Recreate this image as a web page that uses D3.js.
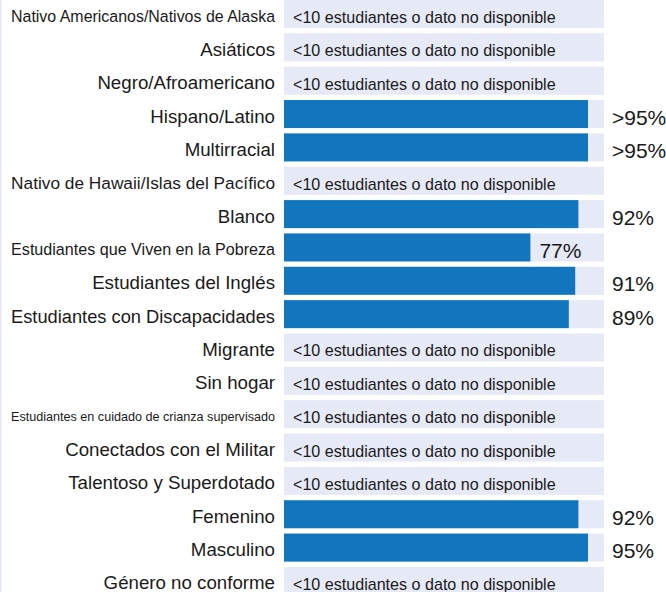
<!DOCTYPE html>
<html>
<head>
    <meta charset="utf-8">
    <style>
        body { margin: 0; padding: 0; overflow: hidden; background-color: #fff; }
        svg { display: block; }
        text { font-family: "Liberation Sans", Arial, sans-serif; fill: #1a1a1a; }
    </style>
</head>
<body>
    <div id="chart"></div>
    <script src="https://d3js.org/d3.v7.min.js"></script>
    <script>
        var groups = ["Nativo Americanos/Nativos de Alaska", "Asiáticos", "Negro/Afroamericano", "Hispano/Latino",
            "Multirracial", "Nativo de Hawaii/Islas del Pacífico", "Blanco", "Estudiantes que Viven en la Pobreza",
            "Estudiantes del Inglés", "Estudiantes con Discapacidades", "Migrante", "Sin hogar",
            "Estudiantes en cuidado de crianza supervisado", "Conectados con el Militar", "Talentoso y Superdotado",
            "Femenino", "Masculino", "Género no conforme"];
        // null = fewer than 10 students or no data
        var values = [null, null, null, 95, 95, null, 92, 77, 91, 89, null, null, null, null, null, 92, 95, null];
        var valueLabels = [null, null, null, ">95%", ">95%", null, "92%", "77%", "91%", "89%", null, null, null, null, null, "92%", "95%", null];
        var noDataText = "<10 estudiantes o dato no disponible";

        var width = 666, height = 592;
        var labelRight = 275, labelMax = 264, labelSize = 18.7;

        var svg = d3.select("#chart").append("svg")
            .attr("width", width)
            .attr("height", height);

        svg.append("rect")
            .attr("x", 0).attr("y", 0)
            .attr("width", 1.5).attr("height", height)
            .attr("fill", "#e3e7f4");

        var x = d3.scaleLinear().domain([0, 100]).range([284, 604]);
        var y = d3.scaleBand().domain(groups)
            .range([0, 17 * 33.35 + 28])
            .paddingInner(0.16).paddingOuter(0);

        var valOf = d => values[groups.indexOf(d)];
        var labelOf = d => valueLabels[groups.indexOf(d)];

        var rows = svg.selectAll("g.row")
            .data(groups)
            .enter().append("g")
            .attr("class", "row")
            .attr("transform", d => "translate(0," + y(d) + ")");

        var bw = y.bandwidth();

        rows.append("rect")
            .attr("x", x(0))
            .attr("width", x(100) - x(0))
            .attr("height", bw)
            .attr("fill", "#e6e9f6");

        rows.filter(d => valOf(d) !== null)
            .append("rect")
            .attr("x", x(0))
            .attr("width", d => x(valOf(d)) - x(0))
            .attr("height", bw)
            .attr("fill", "#1176bd");

        // category labels, shrunk when too wide
        rows.append("text")
            .attr("x", labelRight)
            .attr("y", bw / 2)
            .attr("text-anchor", "end")
            .style("font-size", labelSize + "px")
            .text(d => d)
            .each(function() {
                var w = this.getComputedTextLength();
                var fs = labelSize;
                if (w > labelMax) fs = labelSize * labelMax / w;
                d3.select(this).style("font-size", fs + "px")
                    .attr("dy", (fs * 0.36 + 1.8) + "px");
            });

        rows.filter(d => valOf(d) === null)
            .append("text")
            .attr("x", x(0) + 9)
            .attr("y", bw / 2)
            .attr("dy", "9px")
            .style("font-size", "16.1px")
            .text(noDataText);

        rows.filter(d => valOf(d) !== null)
            .append("text")
            .attr("y", bw / 2)
            .attr("dy", "10.5px")
            .style("font-size", "21px")
            .text(labelOf)
            .each(function(d) {
                var w = this.getComputedTextLength();
                var px = x(valOf(d)) + 9;
                if (px + w > x(100)) px = x(100) + 8;
                d3.select(this).attr("x", px);
            });
    </script>
</body>
</html>
